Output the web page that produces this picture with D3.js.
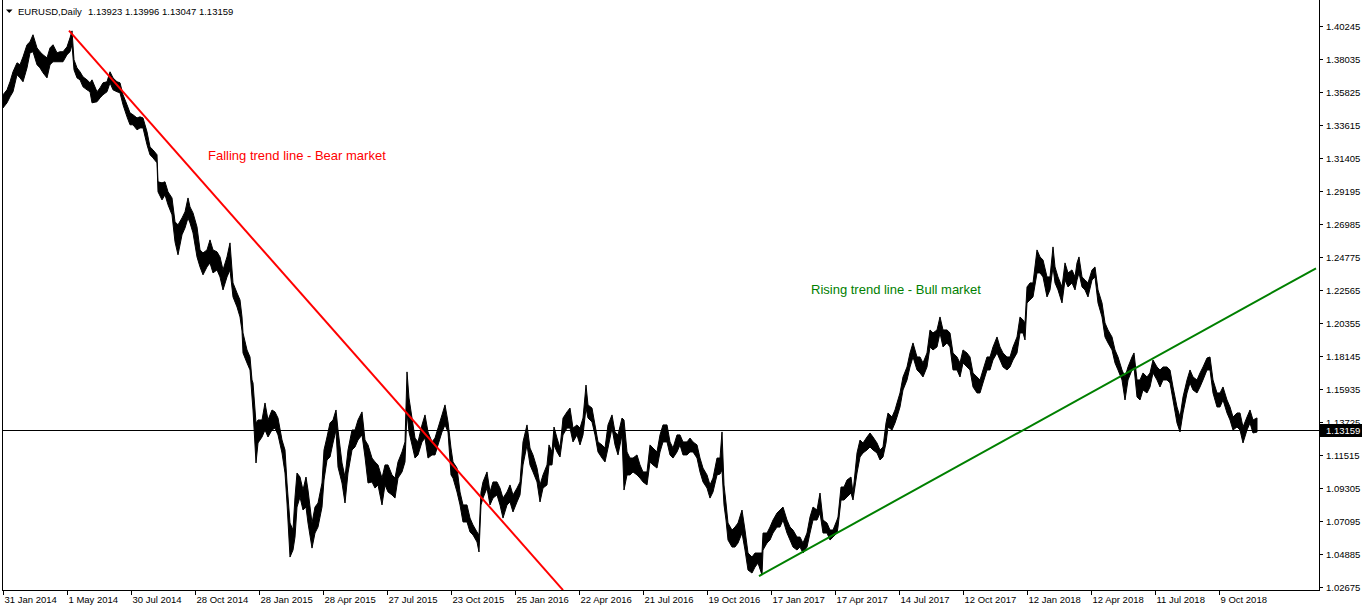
<!DOCTYPE html>
<html>
<head>
<meta charset="utf-8">
<script src="https://cdn.jsdelivr.net/npm/d3@7"></script>
<style>
  body { margin: 0; background: #fff; }
  svg { display: block; font-family: "Liberation Sans", Arial, sans-serif; }
</style>
</head>
<body>
<svg id="chart" width="1362" height="611"></svg>
<script>
// header values (open, high, low, close of the last bar)
const symbolName = "EURUSD,Daily";
const lastBar = [1.13923, 1.13996, 1.13047, 1.13159];

// price axis ticks
const priceTicks = [1.40245, 1.38035, 1.35825, 1.33615, 1.31405, 1.29195, 1.26985, 1.24775, 1.22565,
    1.20355, 1.18145, 1.15935, 1.13725, 1.11515, 1.09305, 1.07095, 1.04885, 1.02675];

// time axis: bar index of each label (1 bar per pixel) and its text
const dateTickBars = [3, 67, 131, 195, 259, 323, 387, 451, 515, 579, 643, 707, 771, 835, 899, 963, 1027, 1091, 1155, 1219];
const dateTickLabels = ["31 Jan 2014", "1 May 2014", "30 Jul 2014", "28 Oct 2014", "28 Jan 2015", "28 Apr 2015",
    "27 Jul 2015", "23 Oct 2015", "25 Jan 2016", "22 Apr 2016", "21 Jul 2016", "19 Oct 2016", "17 Jan 2017",
    "17 Apr 2017", "14 Jul 2017", "12 Oct 2017", "12 Jan 2018", "12 Apr 2018", "11 Jul 2018", "9 Oct 2018"];

// daily bars, every few bars: bar index, high, low
const sampleBars = [
    3,7,10,13,17,20,23,27,30,33, 37,40,43,47,50,53,57,60,63,67, 70,72,74,77,80,83,87,90,92,97,
    100,103,107,110,113,117,120,123,127,130, 133,137,140,143,147,150,153,157,158,162, 165,168,172,175,178,182,185,188,
    190,193,197,200,203,207,210,213,217,220, 223,227,230,233,237,240,242,243,247,250, 252,253,256,258,262,265,268,272,275,278,
    282,285,287,290,293,295,297,300,303,306, 308,312,315,318,322,324,327,330,333,336, 338,342,345,348,352,355,358,362,365,368,
    372,375,378,382,385,388,392,395,398,402, 405,407,409,412,415,418,422,425,428,432, 435,438,442,445,448,451,453,457,460,463,
    467,470,473,477,479,481,483,487,490,493, 497,500,503,507,510,513,517,520,523,527, 530,533,537,540,543,547,549,
    552,554,557,560,563,567,570,573,577,580, 583,586,588,592,595,598,602,605,608,612, 615,618,622,624,627,630,633,637,640,643,
    647,650,653,657,660,663,667,670,673,677, 680,683,687,690,693,697,700,703,707,710, 713,717,720,722,724,726,
    728,732,735,738,742,745,748,752,755,758, 762,763,767,770,773,777,780,783,787,790, 793,797,800,803,807,810,813,817,820,823,
    827,830,833,837,838,841,844,847,851,853, 857,860,863,867,870,873,877,880,883,886, 888,892,895,897,
    900,903,907,910,913,917,920,923,927,930, 933,937,940,943,947,950,953,957,960,963, 967,970,973,977,980,983,987,990,993,997,
    1000,1003,1007,1010,1013,1017,1020,1023,1025,1027, 1030,1033,1037,1040,1043,1047,1050,1053,1055,1058, 1062,1065,1068,1072,1075,
    1077,1079,1082,1085,1088,1092,1095,1098,1102,1105, 1108,1112,1115,1118,1122,1125,1128,1132,1134,1137,
    1140,1143,1147,1150,1153,1157,1160,1163,1167,1170, 1173,1177,1180,1183,1187,1190,1193,1197,1200,1203,
    1207,1210,1213,1217,1220,1223,1227,1230,1233,1237, 1240,1243,1247,1250,1253,1257
];

const highs = [
    1.3564,1.3597,1.3651,1.3718,1.3778,1.3765,1.3818,1.3899,1.3919,1.3966,
    1.3878,1.3852,1.3832,1.3811,1.3878,1.3899,1.3845,1.3852,1.3852,1.3885,
    1.3945,1.3992,1.3798,1.3744,1.3718,1.3684,1.3664,1.3644,1.3664,1.3584,
    1.3610,1.3644,1.3651,1.3718,1.3677,1.3651,1.3644,1.3564,1.3497,1.3443,
    1.3430,1.3409,1.3416,1.3409,1.3316,1.3215,1.3195,1.3162,1.2981,1.2974,
    1.2981,1.2914,1.2873,1.2713,1.2693,1.2739,1.2780,1.2873,
    1.2813,1.2773,1.2679,1.2525,1.2505,1.2525,1.2592,1.2525,1.2512,1.2478,
    1.2391,1.2478,1.2572,1.2304,1.2237,1.2190,1.2076,1.1969,1.1855,1.1808,
    1.1654,1.1634,1.1366,1.1386,1.1386,1.1500,1.1386,1.1453,1.1440,1.1399,
    1.1252,1.1185,1.0964,1.0696,1.0649,1.0870,1.1031,1.1004,1.0917,1.1004,
    1.0917,1.0696,1.0803,1.0830,1.0964,1.1185,1.1272,1.1366,1.1386,1.1453,
    1.1319,1.1098,1.1004,1.1185,1.1319,1.1319,1.1386,1.1440,1.1252,1.1219,
    1.1131,1.1105,1.1085,1.0997,1.1085,1.1085,1.1018,1.0997,1.1105,1.1172,
    1.1239,1.1708,1.1533,1.1399,1.1265,1.1239,1.1353,1.1420,1.1306,1.1239,
    1.1265,1.1332,1.1420,1.1487,1.1373,1.1198,1.1105,1.1064,1.0904,1.0817,
    1.0817,1.0729,1.0683,1.0636,1.0616,1.0904,1.0971,1.1038,1.0904,1.0971,
    1.0971,1.0930,1.0863,1.0904,1.0951,1.0884,1.0930,1.0971,1.1239,1.1353,
    1.1198,1.1152,1.1064,1.0951,1.1018,1.1085,1.1219,
    1.1172,1.1339,1.1265,1.1198,1.1399,1.1440,1.1466,1.1332,1.1353,1.1332,
    1.1399,1.1620,1.1487,1.1466,1.1353,1.1239,1.1219,1.1198,1.1353,1.1420,
    1.1306,1.1286,1.1399,1.1386,1.1172,1.1131,1.1131,1.1152,1.1085,1.1038,
    1.1038,1.1219,1.1198,1.1172,1.1286,1.1353,1.1353,1.1239,1.1198,1.1286,
    1.1286,1.1239,1.1239,1.1265,1.1239,1.1219,1.1131,1.1064,1.1018,1.0951,
    1.0997,1.1131,1.1131,1.1306,1.0951,1.0830,
    1.0696,1.0649,1.0669,1.0696,1.0783,1.0649,1.0495,1.0468,1.0495,1.0495,
    1.0495,1.0629,1.0629,1.0669,1.0716,1.0763,1.0783,1.0803,1.0716,1.0669,
    1.0649,1.0602,1.0602,1.0562,1.0629,1.0736,1.0803,1.0783,1.0897,1.0716,
    1.0696,1.0649,1.0649,1.0716,1.0736,1.0937,1.0937,1.0984,1.1004,1.0897,
    1.1165,1.1252,1.1232,1.1272,1.1299,1.1272,1.1232,1.1185,1.1205,1.1366,
    1.1433,1.1406,1.1453,1.1500,
    1.1567,1.1674,1.1741,1.1835,1.1902,1.1808,1.1808,1.1768,1.1835,1.1989,
    1.1969,1.1989,1.2076,1.1989,1.1989,1.1969,1.1835,1.1808,1.1768,1.1855,
    1.1835,1.1808,1.1701,1.1674,1.1654,1.1721,1.1808,1.1808,1.1875,1.1942,
    1.1875,1.1835,1.1808,1.1808,1.1875,1.1942,1.2076,1.2056,1.2036,1.2277,
    1.2304,1.2304,1.2525,1.2478,1.2458,1.2344,1.2344,1.2545,1.2411,1.2344,
    1.2277,1.2438,1.2371,1.2391,1.2344,
    1.2438,1.2478,1.2344,1.2324,1.2304,1.2391,1.2411,1.2257,1.2170,1.2036,
    1.1989,1.1942,1.1855,1.1808,1.1721,1.1674,1.1741,1.1808,1.1835,1.1654,
    1.1654,1.1701,1.1674,1.1701,1.1788,1.1741,1.1721,1.1741,1.1741,1.1721,
    1.1607,1.1473,1.1406,1.1540,1.1654,1.1721,1.1674,1.1654,1.1701,1.1741,
    1.1801,1.1808,1.1654,1.1567,1.1567,1.1607,1.1520,1.1473,1.1406,1.1433,
    1.1433,1.1339,1.1406,1.1453,1.1386,1.1400
];

const lows = [
    1.3476,1.3510,1.3550,1.3584,1.3698,1.3677,1.3651,1.3744,1.3845,1.3852,
    1.3765,1.3744,1.3711,1.3677,1.3765,1.3785,1.3785,1.3785,1.3785,1.3832,
    1.3852,1.3899,1.3731,1.3677,1.3664,1.3617,1.3597,1.3584,1.3510,1.3517,
    1.3543,1.3564,1.3584,1.3644,1.3597,1.3584,1.3577,1.3497,1.3416,1.3363,
    1.3363,1.3329,1.3342,1.3342,1.3229,1.3162,1.3141,1.3108,1.2914,1.2860,
    1.2894,1.2827,1.2760,1.2579,1.2492,1.2626,1.2672,1.2739,
    1.2706,1.2639,1.2478,1.2411,1.2358,1.2411,1.2438,1.2371,1.2391,1.2344,
    1.2257,1.2344,1.2391,1.2210,1.2143,1.2076,1.1982,1.1835,1.1768,1.1721,
    1.1540,1.1453,1.1098,1.1232,1.1272,1.1319,1.1272,1.1319,1.1332,1.1286,
    1.1165,1.1031,1.0830,1.0468,1.0515,1.0602,1.0803,1.0870,1.0783,1.0803,
    1.0696,1.0528,1.0629,1.0669,1.0803,1.0984,1.1118,1.1138,1.1232,1.1319,
    1.1071,1.0964,1.0830,1.1031,1.1185,1.1205,1.1252,1.1286,1.1138,1.0964,
    1.0971,1.0930,1.0951,1.0817,1.0951,1.0904,1.0884,1.0863,1.0997,1.1038,
    1.1105,1.1440,1.1306,1.1219,1.1131,1.1152,1.1239,1.1265,1.1131,1.1152,
    1.1152,1.1219,1.1306,1.1353,1.1306,1.1018,1.0997,1.0904,1.0817,1.0703,
    1.0703,1.0636,1.0616,1.0569,1.0502,1.0817,1.0863,1.0930,1.0817,1.0863,
    1.0884,1.0817,1.0729,1.0817,1.0837,1.0770,1.0837,1.0884,1.1085,1.1219,
    1.1085,1.1038,1.0971,1.0837,1.0930,1.0951,1.1085,
    1.1085,1.1219,1.1172,1.1138,1.1286,1.1332,1.1332,1.1239,1.1286,1.1219,
    1.1286,1.1466,1.1399,1.1373,1.1286,1.1172,1.1131,1.1105,1.1198,1.1332,
    1.1219,1.1152,1.1286,1.0917,1.1018,1.1018,1.1038,1.1018,1.0997,1.0971,
    1.0951,1.1105,1.1085,1.1064,1.1172,1.1239,1.1239,1.1152,1.1131,1.1172,
    1.1219,1.1152,1.1152,1.1172,1.1172,1.1131,1.1038,1.0971,1.0930,1.0863,
    1.0904,1.1018,1.1024,1.1051,1.0817,1.0716,
    1.0582,1.0535,1.0535,1.0562,1.0629,1.0515,1.0381,1.0361,1.0401,1.0428,
    1.0348,1.0515,1.0562,1.0582,1.0629,1.0669,1.0669,1.0716,1.0629,1.0582,
    1.0535,1.0515,1.0535,1.0495,1.0535,1.0629,1.0716,1.0716,1.0763,1.0629,
    1.0629,1.0582,1.0602,1.0629,1.0669,1.0850,1.0850,1.0870,1.0897,1.0850,
    1.1031,1.1138,1.1165,1.1185,1.1205,1.1185,1.1165,1.1118,1.1138,1.1232,
    1.1339,1.1319,1.1366,1.1406,
    1.1473,1.1587,1.1654,1.1741,1.1808,1.1721,1.1701,1.1674,1.1741,1.1875,
    1.1855,1.1875,1.1969,1.1875,1.1902,1.1875,1.1721,1.1721,1.1674,1.1768,
    1.1741,1.1721,1.1607,1.1567,1.1567,1.1634,1.1721,1.1721,1.1788,1.1835,
    1.1788,1.1741,1.1721,1.1741,1.1788,1.1835,1.1969,1.1969,1.1922,1.2170,
    1.2190,1.2210,1.2371,1.2371,1.2344,1.2210,1.2257,1.2411,1.2304,1.2257,
    1.2170,1.2324,1.2277,1.2304,1.2257,
    1.2324,1.2371,1.2277,1.2257,1.2210,1.2324,1.2344,1.2170,1.2076,1.1942,
    1.1902,1.1855,1.1768,1.1721,1.1654,1.1520,1.1654,1.1721,1.1741,1.1540,
    1.1520,1.1587,1.1567,1.1607,1.1701,1.1654,1.1607,1.1654,1.1654,1.1634,
    1.1520,1.1366,1.1306,1.1433,1.1567,1.1634,1.1587,1.1567,1.1607,1.1654,
    1.1721,1.1721,1.1567,1.1473,1.1473,1.1520,1.1433,1.1386,1.1319,1.1339,
    1.1319,1.1232,1.1319,1.1366,1.1299,1.1305
];

// trend lines (bar index, price)
const bearBars = [69, 563];
const bearPrices = [1.3993, 1.0247];
const bullBars = [759, 1316];
const bullPrices = [1.0341, 1.2402];

const svg = d3.select("#chart");

// plot frame
const plotLeft = 2, plotRight = 1319, plotTop = 0, plotBottom = 590;

// one bar per pixel, like the terminal's zoom level
const x = d3.scaleLinear().domain([plotLeft, plotRight]).range([plotLeft, plotRight]);
const y = d3.scaleLinear().domain([1.02675, 1.40245]).range([587, 26]);

if (sampleBars.length !== highs.length || highs.length !== lows.length) {
    console.log("length mismatch", sampleBars.length, highs.length, lows.length);
}

const bars = sampleBars.map((b, i) => ({ bar: b, high: highs[i], low: lows[i] }));

svg.append("clipPath").attr("id", "plot")
    .append("rect")
    .attr("x", plotLeft).attr("y", plotTop)
    .attr("width", plotRight - plotLeft).attr("height", plotBottom - plotTop);

// current price line
const lastClose = lastBar[3];
svg.append("line")
    .attr("x1", plotLeft).attr("x2", plotRight)
    .attr("y1", Math.round(y(lastClose)) + 0.5).attr("y2", Math.round(y(lastClose)) + 0.5)
    .attr("stroke", "#000")
    .attr("stroke-width", 1);

// price band (high to low of the daily bars)
const band = d3.area()
    .x(d => x(d.bar))
    .y0(d => y(d.low))
    .y1(d => y(d.high));

svg.append("path")
    .datum(bars)
    .attr("d", band)
    .attr("fill", "#000")
    .attr("stroke", "#000")
    .attr("stroke-width", 1)
    .attr("stroke-linejoin", "miter");

// trend lines
const trend = d3.line().x(d => x(d[0])).y(d => y(d[1]));

svg.append("path")
    .datum(bearBars.map((b, i) => [b, bearPrices[i]]))
    .attr("d", trend)
    .attr("clip-path", "url(#plot)")
    .attr("fill", "none")
    .attr("stroke", "#ff0000")
    .attr("stroke-width", 2);

svg.append("path")
    .datum(bullBars.map((b, i) => [b, bullPrices[i]]))
    .attr("d", trend)
    .attr("clip-path", "url(#plot)")
    .attr("fill", "none")
    .attr("stroke", "#008000")
    .attr("stroke-width", 2);

// annotations
svg.append("text")
    .attr("x", x(208)).attr("y", y(1.3128))
    .attr("fill", "#ff0000")
    .style("font-size", "13px")
    .text("Falling trend line - Bear market");

svg.append("text")
    .attr("x", x(811)).attr("y", y(1.2230))
    .attr("fill", "#008000")
    .style("font-size", "13px")
    .text("Rising trend line - Bull market");

// frame lines
const frame = svg.append("g").attr("stroke", "#000").attr("stroke-width", 1);
frame.append("line").attr("x1", plotLeft + 0.5).attr("x2", plotLeft + 0.5).attr("y1", plotTop).attr("y2", plotBottom + 0.5);
frame.append("line").attr("x1", plotRight + 0.5).attr("x2", plotRight + 0.5).attr("y1", plotTop).attr("y2", plotBottom + 0.5);
frame.append("line").attr("x1", plotLeft).attr("x2", plotRight + 1).attr("y1", plotBottom + 0.5).attr("y2", plotBottom + 0.5);

// price axis
const priceAxis = svg.append("g").style("font-size", "9.5px");
priceTicks.forEach((p) => {
    const ty = Math.round(y(p)) + 0.5;
    priceAxis.append("line")
        .attr("x1", plotRight + 1).attr("x2", plotRight + 4)
        .attr("y1", ty).attr("y2", ty)
        .attr("stroke", "#000");
    priceAxis.append("text")
        .attr("x", plotRight + 7).attr("y", ty)
        .attr("dy", "0.35em")
        .attr("fill", "#000")
        .text(d3.format(".5f")(p));
});

// last price tag
const tagY = Math.round(y(lastClose)) + 0.5;
priceAxis.append("rect")
    .attr("x", plotRight + 1).attr("y", tagY - 6.5)
    .attr("width", 1362 - plotRight - 1).attr("height", 13)
    .attr("fill", "#000");
priceAxis.append("text")
    .attr("x", plotRight + 7).attr("y", tagY)
    .attr("dy", "0.35em")
    .attr("fill", "#fff")
    .text(d3.format(".5f")(lastClose));

// time axis
const timeAxis = svg.append("g").style("font-size", "9.5px");
dateTickBars.forEach((b, i) => {
    const tx = Math.round(x(b)) + 0.5;
    timeAxis.append("line")
        .attr("x1", tx).attr("x2", tx)
        .attr("y1", plotBottom + 1).attr("y2", plotBottom + 5)
        .attr("stroke", "#000");
    timeAxis.append("text")
        .attr("x", tx + 1).attr("y", 603)
        .attr("fill", "#000")
        .text(dateTickLabels[i]);
});

// header
svg.append("path")
    .attr("d", "M6,9.5 L12.5,9.5 L9.25,13 Z")
    .attr("fill", "#000");
svg.append("text")
    .attr("x", 18).attr("y", 15)
    .style("font-size", "9.5px")
    .attr("fill", "#000")
    .text(symbolName);
svg.append("text")
    .attr("x", 88).attr("y", 15)
    .style("font-size", "9.5px")
    .attr("fill", "#000")
    .text(lastBar.map(d3.format(".5f")).join(" "));
</script>
</body>
</html>
